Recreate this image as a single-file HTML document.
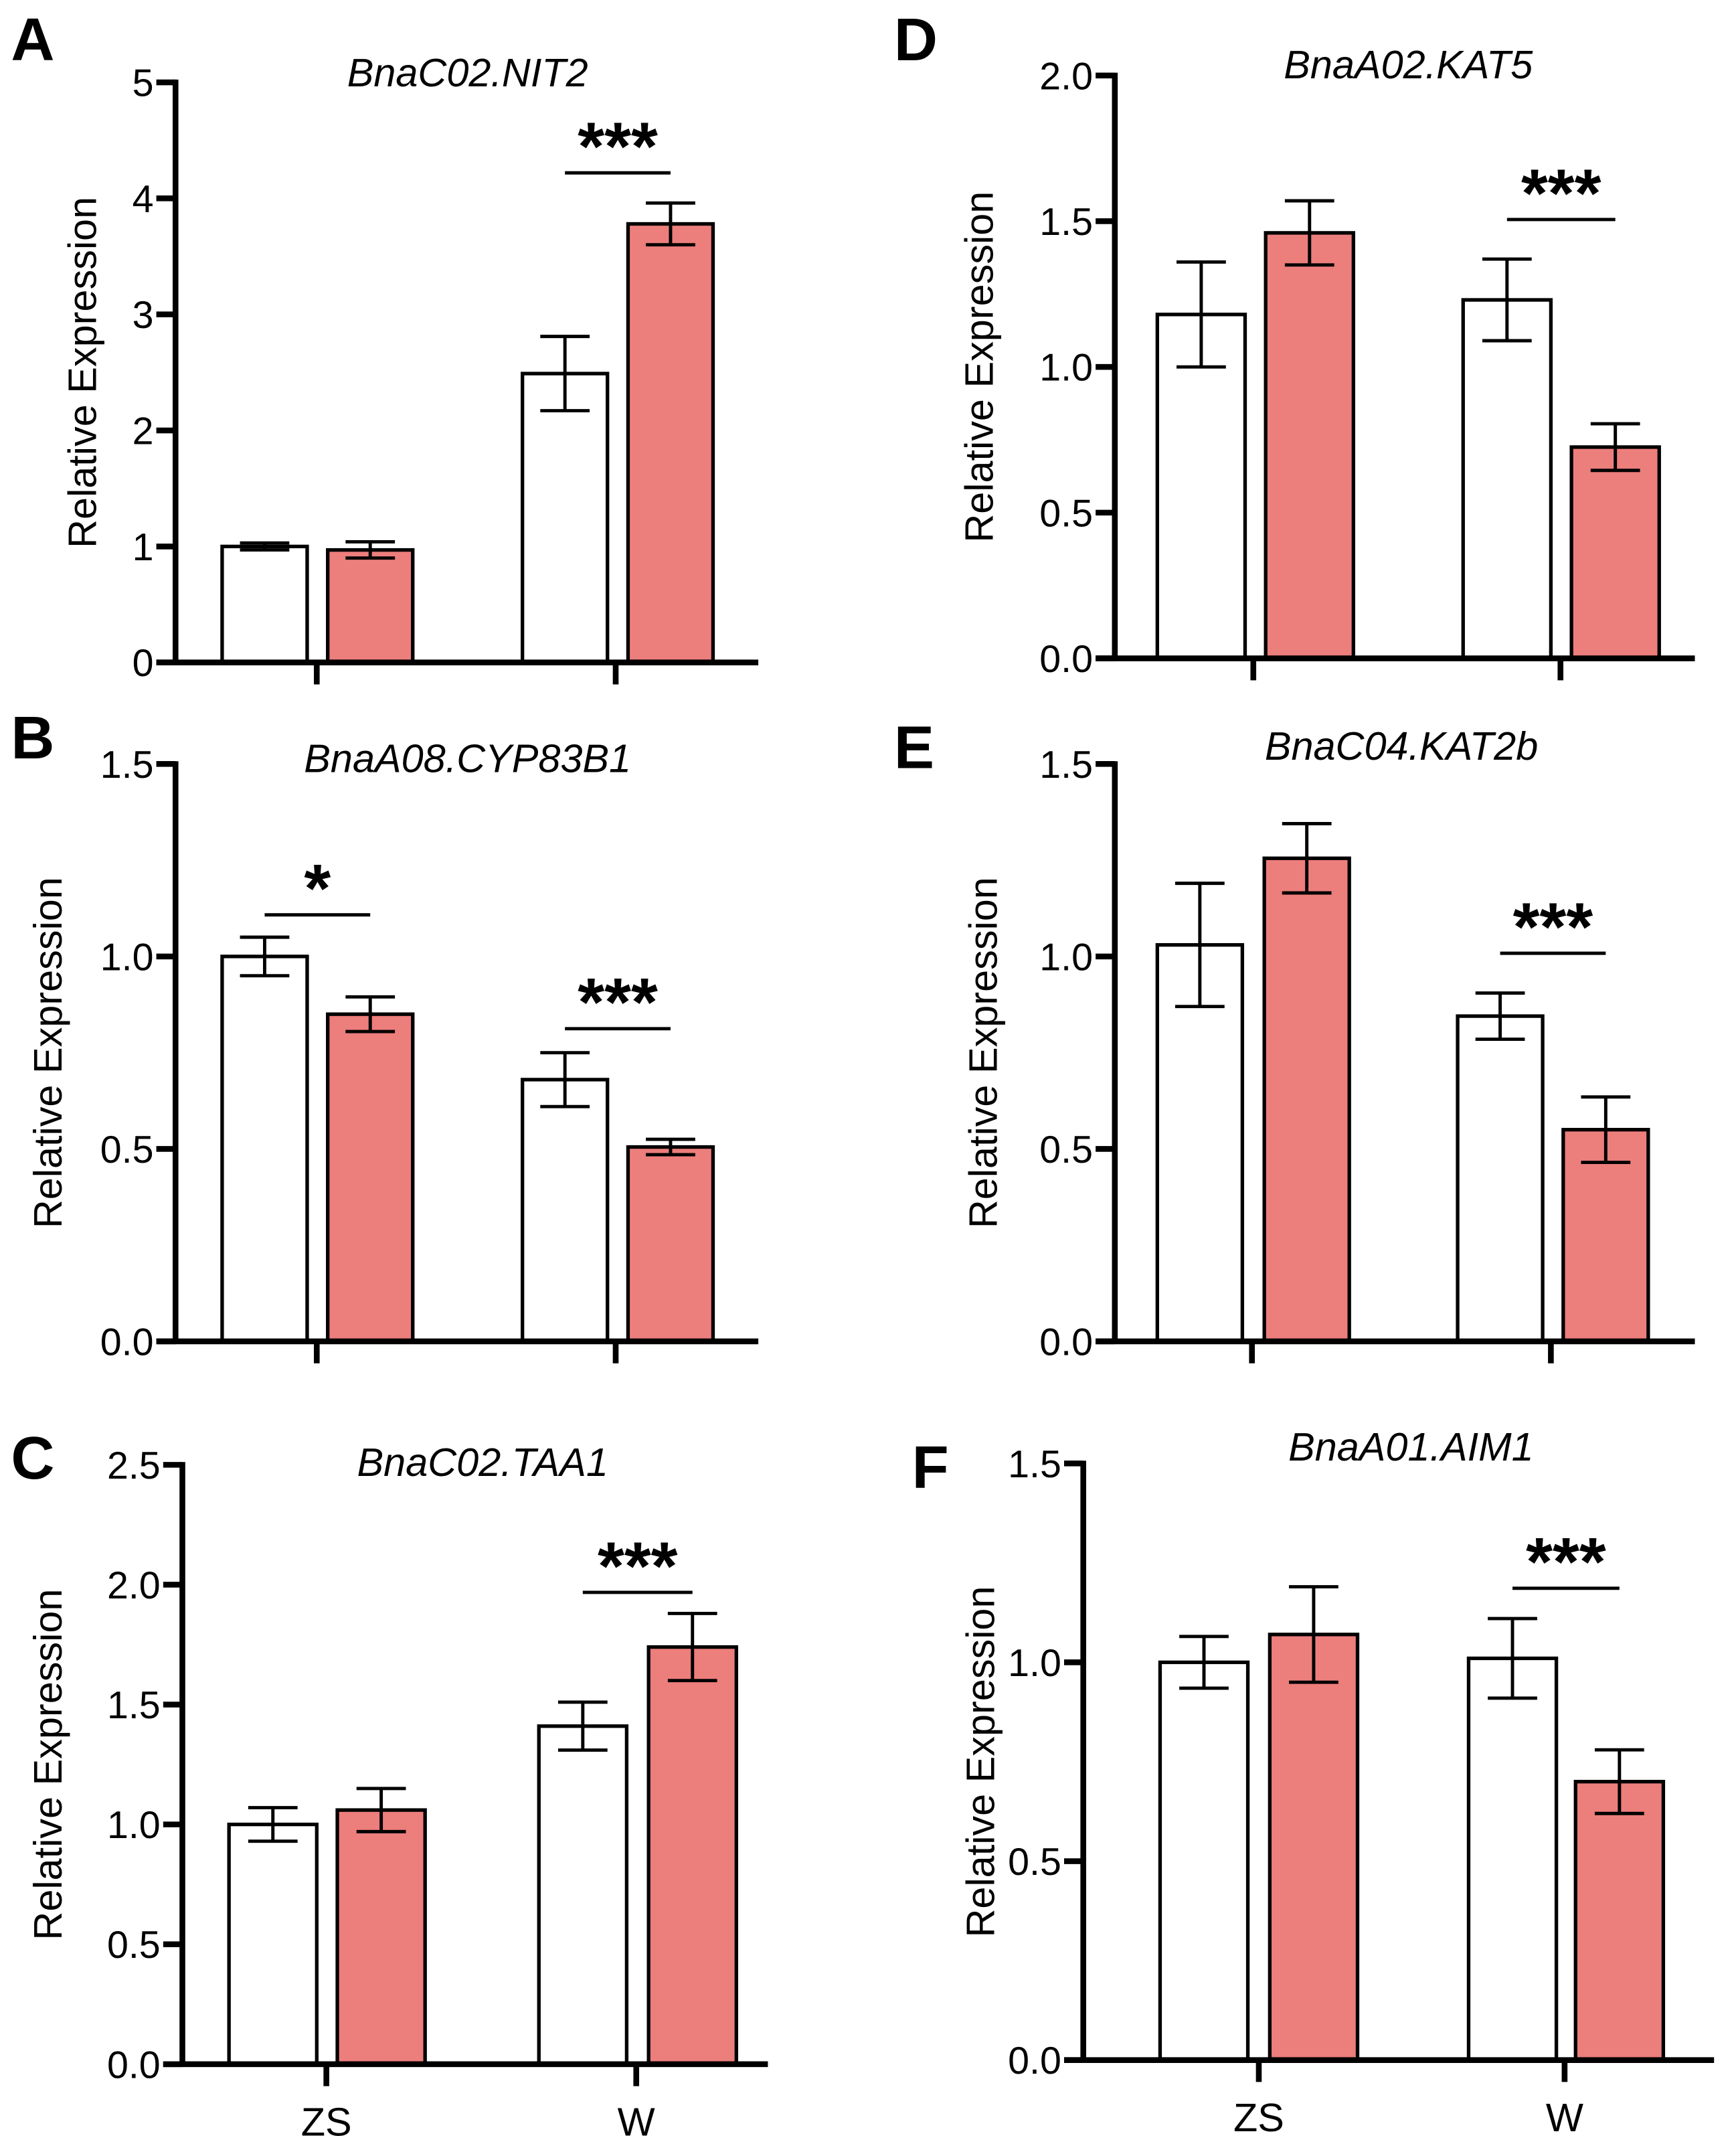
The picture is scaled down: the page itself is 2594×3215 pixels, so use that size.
<!DOCTYPE html>
<html><head><meta charset="utf-8"><style>html,body{margin:0;padding:0;background:#fff}svg{display:block}</style></head>
<body>
<svg id="fig" xmlns="http://www.w3.org/2000/svg" width="2594" height="3215" viewBox="0 0 1266 1569" font-family="Liberation Sans, Arial, sans-serif"></svg>
<script>
// ---- data ----
const groups = ["ZS", "W"];
const titlesList = ["BnaC02.NIT2","BnaA08.CYP83B1","BnaC02.TAA1","BnaA02.KAT5","BnaC04.KAT2b","BnaA01.AIM1"];
const lettersList = ["A","B","C","D","E","F"];
const valA = [1.0, 0.97, 2.49, 3.78];   const errA = [0.03, 0.07, 0.32, 0.18];
const valB = [1.0, 0.85, 0.68, 0.505];  const errB = [0.05, 0.045, 0.07, 0.02];
const valC = [1.0, 1.06, 1.41, 1.74];   const errC = [0.07, 0.09, 0.10, 0.14];
const valD = [1.18, 1.46, 1.23, 0.725]; const errD = [0.18, 0.11, 0.14, 0.08];
const valE = [1.03, 1.255, 0.845, 0.55];const errE = [0.16, 0.09, 0.06, 0.085];
const valF = [1.0, 1.07, 1.01, 0.70];   const errF = [0.065, 0.12, 0.10, 0.08];
const ticksA = [0,1,2,3,4,5];           const tickLabelsA = ["0","1","2","3","4","5"];
const ticksB = [0,0.5,1.0,1.5];         const tickLabelsB = ["0.0","0.5","1.0","1.5"];
const ticksC = [0,0.5,1.0,1.5,2.0,2.5]; const tickLabelsC = ["0.0","0.5","1.0","1.5","2.0","2.5"];
const ticksD = [0,0.5,1.0,1.5,2.0];     const tickLabelsD = ["0.0","0.5","1.0","1.5","2.0"];
const ticksE = [0,0.5,1.0,1.5];         const tickLabelsE = ["0.0","0.5","1.0","1.5"];
const ticksF = [0,0.5,1.0,1.5];         const tickLabelsF = ["0.0","0.5","1.0","1.5"];
const sigA = [["***",1]]; const sigB = [["*",0],["***",1]]; const sigC = [["***",1]];
const sigD = [["***",1]]; const sigE = [["***",1]]; const sigF = [["***",1]];

// ---- layout (not data) ----
const layouts = [
 {ax:128, top:60,  bot:483,  right:553, max:5,   bars:[162,239,381,458], bw:62, ticks:[231,449], sigY:[126], showX:false, ylab:60},
 {ax:128, top:557, bot:978,  right:553, max:1.5, bars:[162,239,381,458], bw:62, ticks:[231,449], sigY:[667,750], showX:false, ylab:35},
 {ax:133, top:1068,bot:1505, right:560, max:2.5, bars:[167,246,393,473], bw:64, ticks:[238,464], sigY:[1161], showX:true, ylab:35},
 {ax:813, top:55,  bot:480,  right:1236,max:2.0, bars:[844,923,1067,1146], bw:64, ticks:[914,1138], sigY:[160], showX:false, ylab:714},
 {ax:813, top:557, bot:978,  right:1236,max:1.5, bars:[844,922,1063,1140], bw:62, ticks:[913,1131], sigY:[695], showX:false, ylab:717},
 {ax:790, top:1067,bot:1502, right:1250,max:1.5, bars:[846,926,1071,1149], bw:64, ticks:[918,1141], sigY:[1158], showX:true, ylab:715}
];
const letterPos = [[8,44],[8,553],[8,1078],[652,44],[652,560],[665,1085]];
const titlePos = [[341,63],[341,563],[352,1076],[1027,57],[1022,554],[1029,1065]];

const NS = "http://www.w3.org/2000/svg";
const svg = document.getElementById("fig");
function mk(tag, attrs, parent){const e=document.createElementNS(NS,tag);for(const k in attrs)e.setAttribute(k,attrs[k]);(parent||svg).appendChild(e);return e;}

const vals=[valA,valB,valC,valD,valE,valF], errs=[errA,errB,errC,errD,errE,errF];
const ticks=[ticksA,ticksB,ticksC,ticksD,ticksE,ticksF], tlabs=[tickLabelsA,tickLabelsB,tickLabelsC,tickLabelsD,tickLabelsE,tickLabelsF];
const sigs=[sigA,sigB,sigC,sigD,sigE,sigF];

for(let p=0;p<6;p++){
  const L=layouts[p];
  const g=mk("g",{});
  
  
  const y=v=>L.bot-(v/L.max)*(L.bot-L.top);
  const lt=mk("text",{x:letterPos[p][0],y:letterPos[p][1],"font-size":44,"font-weight":"bold"},g);
  lt.textContent=lettersList[p];
  
  
  const tt=mk("text",{x:titlePos[p][0],y:titlePos[p][1],"font-size":29,"font-style":"italic","text-anchor":"middle"},g);
  tt.textContent=titlesList[p];
  
  
  const cy=(L.top+L.bot)/2;
  const yl=mk("text",{x:0,y:0,"font-size":29,"text-anchor":"middle",transform:`translate(${L.ylab+10},${cy}) rotate(-90)`},g);
  yl.textContent="Relative Expression";
  
  
  for(let i=0;i<4;i++){
    const v=vals[p][i], e=errs[p][i], x0=L.bars[i], cx=x0+L.bw/2;
    const r=mk("rect",{x:x0,y:y(v),width:L.bw,height:L.bot-y(v),fill:(i%2?"#EC7E7C":"#ffffff"),stroke:"#000","stroke-width":2.6},g);
    
    
    const eb=mk("path",{d:`M${cx},${y(v+e)}V${y(v-e)}M${cx-18},${y(v+e)}h36M${cx-18},${y(v-e)}h36`,stroke:"#000","stroke-width":2.4,fill:"none"},g);
    
    
  }
  const ya=mk("line",{x1:L.ax,y1:L.top-2,x2:L.ax,y2:L.bot,stroke:"#000","stroke-width":4.2},g);
  
  
  const xa=mk("line",{x1:L.ax-14,y1:L.bot,x2:L.right,y2:L.bot,stroke:"#000","stroke-width":4.2},g);
  
  
  ticks[p].forEach((t,k)=>{
    const tl=mk("line",{x1:L.ax-14,y1:y(t),x2:L.ax,y2:y(t),stroke:"#000","stroke-width":4.2},g);
    
    
    const tx=mk("text",{x:L.ax-16,y:y(t)+10,"font-size":28,"text-anchor":"end"},g);
    tx.textContent=tlabs[p][k];
    
    
  });
  L.ticks.forEach((tx0,k)=>{
    const xt=mk("line",{x1:tx0,y1:L.bot,x2:tx0,y2:L.bot+16,stroke:"#000","stroke-width":4.2},g);
    
    
    if(L.showX){
      const xl=mk("text",{x:tx0,y:L.bot+52,"font-size":29,"text-anchor":"middle"},g);
      xl.textContent=groups[k];
      
      
    }
  });
  sigs[p].forEach((s,k)=>{
    const gi=s[1], x1=L.bars[gi*2]+L.bw/2, x2=L.bars[gi*2+1]+L.bw/2, ly=L.sigY[k];
    const sl=mk("line",{x1:x1,y1:ly,x2:x2,y2:ly,stroke:"#000","stroke-width":2.4},g);
    
    
    const st=mk("text",{x:(x1+x2)/2,y:ly-2,"font-size":50,"font-weight":"bold","text-anchor":"middle"},g);
    st.textContent=s[0];
    
    
  });
}
</script>
</body></html>
